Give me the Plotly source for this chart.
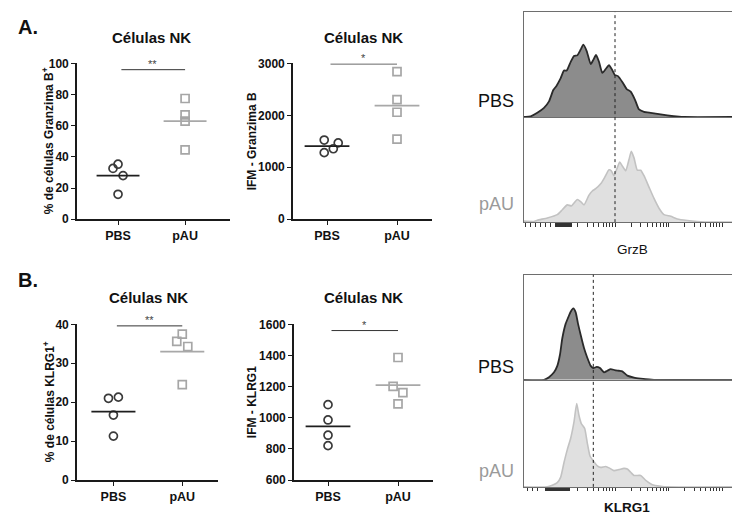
import numpy as np
import plotly.graph_objects as go

FONT = "Liberation Sans, Arial, sans-serif"
W, H = 732, 526

# ---------------- data ----------------
GRUPOS = ["PBS", "pAU"]

# Panel A: granzima B en células NK
GZB_PCT_PBS = [35.3, 32.6, 28.0, 16.0]
GZB_PCT_PAU = [77.5, 67.0, 63.0, 44.5]
GZB_IFM_PBS = [1525, 1357, 1469, 1282]
GZB_IFM_PAU = [2844, 2302, 2060, 1543]

# Panel B: KLRG1 en células NK
KLRG1_PCT_PBS = [21.0, 21.3, 16.7, 11.3]
KLRG1_PCT_PAU = [37.5, 35.6, 34.3, 24.5]
KLRG1_IFM_PBS = [1084, 986, 888, 821]
KLRG1_IFM_PAU = [1387, 1201, 1162, 1089]

SIGNIF = ["**", "*", "**", "*"]
SIGNIF_Y = [96, 2990, 39.6, 1560]

TICKS_GZB_PCT = [0, 20, 40, 60, 80, 100]
TICKS_GZB_IFM = [0, 1000, 2000, 3000]
TICKS_KLRG1_PCT = [0, 10, 20, 30, 40]
TICKS_KLRG1_IFM = [600, 800, 1000, 1200, 1400, 1600]

# Histogramas (canal de visualización, eventos)
GZB_CANAL_PBS = [0, 1.7, 6.7, 13.3, 20, 25, 29.3, 32.3, 36.7, 40, 42.7, 46.7, 50, 53.3,
                 56.7, 59.3, 62.7, 66.7, 69.3, 72, 75, 78.3, 81.7, 85, 87.7, 90.7, 94,
                 98.3, 102.7, 106.7, 111, 115, 120, 126.7, 133.3, 143.3, 155, 160, 208]
GZB_EVENTOS_PBS = [0, 0, 0.7, 4.3, 9.3, 16, 27.7, 31.7, 40, 47.7, 47.7, 56.7, 62.7, 63.3,
                   69.3, 74.3, 67.7, 54.3, 58.7, 63.7, 56.7, 45.3, 49.3, 53.3, 49.3, 43.3,
                   42, 36, 28.7, 26, 17.7, 7.7, 5.3, 4.3, 3.3, 1.7, 0.3, 0, 0]
GZB_CANAL_PAU = [0, 10, 13.3, 23.3, 33.3, 38.3, 43.3, 47.3, 53.3, 56.7, 60, 65, 68.3,
                 71.7, 76.7, 80.7, 85, 87.3, 90, 92.7, 95.7, 98.3, 101.7, 105, 107.3, 110,
                 113.3, 116.7, 120, 125, 130, 135, 140, 146.7, 153.3, 163.3, 173.3, 186.7, 208]
GZB_EVENTOS_PAU = [1, 0.7, 2, 4.3, 7.7, 12.7, 17.7, 16.7, 23.3, 21, 17.7, 27.7, 32, 34.3,
                   39.3, 46, 53.7, 52.7, 47.7, 54.3, 61.7, 57.7, 52.7, 64.3, 72.7, 66,
                   53.3, 53.3, 47.7, 36, 24.3, 14.3, 7.7, 6, 3.3, 1.7, 0.7, 0, 0]
KLRG1_CANAL_PBS = [0, 20, 25, 30, 33.3, 36, 38.3, 41.7, 44.3, 46.7, 49.3, 51.7, 54, 56.7,
                   60, 63.3, 66.7, 69.3, 72.7, 76, 80, 83.3, 86.7, 90.7, 95, 98.3, 103.3,
                   110, 116.7, 125, 130, 208]
KLRG1_EVENTOS_PBS = [0, 0, 2.7, 7.7, 14.3, 26, 42.7, 57.7, 64.3, 70, 73.3, 69.3, 57.7, 46,
                     32.7, 22.7, 14.3, 12, 13.3, 12, 7.7, 9.3, 11, 10, 9.3, 8.7, 4.3, 2.3,
                     1.3, 0.3, 0, 0]
KLRG1_CANAL_PAU = [0, 23.3, 28.3, 33.3, 36.7, 40, 43.3, 46.7, 50, 52.7, 55, 57.3, 60.7,
                   63.3, 66, 69.3, 73.3, 76.7, 81.7, 86, 90, 95, 100, 103.3, 106.7, 110,
                   116.7, 121.7, 128.3, 136.7, 143.3, 208]
KLRG1_EVENTOS_PAU = [0, 0, 1.7, 4.3, 10, 25, 38.3, 50, 66.7, 85.7, 73.3, 65, 60, 45, 31.7,
                     26.7, 21.7, 20, 21, 19, 16.7, 17.7, 19, 18.3, 15, 11.7, 11.7, 6.7,
                     2.3, 0.7, 0, 0]

GATE_GZB = 91.0
GATE_KLRG1 = 69.3

# ---------------- styling ----------------
C_PBS = "#3a3a3a"
C_PAU = "#a6a6a6"
C_AXIS = "#1a1a1a"


def px_x(x):
    return x / W


def px_y(y):
    return 1 - y / H


fig = go.Figure()

paneles = [
    dict(pbs=GZB_PCT_PBS, pau=GZB_PCT_PAU, jp=[0, -0.075, 0.075, 0], ja=[0, 0, 0, 0],
         xd=(77, 230), yd=(218, 58), xr=[0.388, 2.67], yr=[0, 100], ticks=TICKS_GZB_PCT,
         ytitle="% de células Granzima B<sup>+</sup>", tx=48, title_x=151, title_y=31),
    dict(pbs=GZB_IFM_PBS, pau=GZB_IFM_PAU, jp=[-0.04, 0.09, 0.16, -0.04], ja=[0, 0, 0, 0],
         xd=(293, 432), yd=(218, 58), xr=[0.514, 2.5], yr=[0, 3000], ticks=TICKS_GZB_IFM,
         ytitle="IFM - Granzima B", tx=252, title_x=363, title_y=31),
    dict(pbs=KLRG1_PCT_PBS, pau=KLRG1_PCT_PAU, jp=[-0.072, 0.072, 0, 0], ja=[0, -0.08, 0.08, 0],
         xd=(77, 218), yd=(486, 326), xr=[0.471, 2.519], yr=[0, 40], ticks=TICKS_KLRG1_PCT,
         ytitle="% de células KLRG1<sup>+</sup>", tx=49, title_x=148, title_y=298),
    dict(pbs=KLRG1_IFM_PBS, pau=KLRG1_IFM_PAU, jp=[0, 0, 0, 0], ja=[0, -0.07, 0.07, 0],
         xd=(294, 433), yd=(486, 326), xr=[0.514, 2.5], yr=[600, 1600], ticks=TICKS_KLRG1_IFM,
         ytitle="IFM - KLRG1", tx=252, title_x=363, title_y=298),
]

tick_font = dict(family=FONT, size=12, color="#111", weight="bold")
annotations = []
shapes = []
layout_axes = {}

for i, p in enumerate(paneles, start=1):
    xa = "x" if i == 1 else f"x{i}"
    ya = "y" if i == 1 else f"y{i}"
    xkey = "xaxis" if i == 1 else f"xaxis{i}"
    ykey = "yaxis" if i == 1 else f"yaxis{i}"

    layout_axes[xkey] = dict(
        domain=[px_x(p["xd"][0]), px_x(p["xd"][1])], range=p["xr"], anchor=ya,
        tickvals=[1, 2], ticktext=GRUPOS, showline=True, linecolor=C_AXIS, linewidth=1.6,
        ticks="outside", ticklen=4, tickwidth=1.4, tickcolor=C_AXIS,
        tickfont=dict(family=FONT, size=12.5, color="#111", weight="bold"),
        showgrid=False, zeroline=False)
    layout_axes[ykey] = dict(
        domain=[px_y(p["yd"][0]), px_y(p["yd"][1])], range=p["yr"], anchor=xa,
        tickvals=p["ticks"], showline=True, linecolor=C_AXIS, linewidth=1.6,
        ticks="outside", ticklen=4, tickwidth=1.4, tickcolor=C_AXIS, tickfont=tick_font,
        showgrid=False, zeroline=False)

    for xc, vals, jit, sym, col in ((1, p["pbs"], p["jp"], "circle-open", C_PBS),
                                    (2, p["pau"], p["ja"], "square-open", C_PAU)):
        fig.add_trace(go.Scatter(
            x=[xc + j for j in jit], y=vals, mode="markers", xaxis=xa, yaxis=ya,
            marker=dict(symbol=sym, size=8, color=col, line=dict(width=1.7, color=col)),
            cliponaxis=False, hoverinfo="skip"))
        media = float(np.mean(vals))
        fig.add_trace(go.Scatter(
            x=[xc - 0.32, xc + 0.32], y=[media, media], mode="lines", xaxis=xa, yaxis=ya,
            line=dict(color="#1e1e1e" if xc == 1 else "#a8a8a8", width=1.8),
            hoverinfo="skip"))

    sig_y = SIGNIF_Y[i - 1]
    shapes.append(dict(type="line", xref=xa, yref=ya, x0=1.05, x1=2.0, y0=sig_y, y1=sig_y,
                       line=dict(color="#333", width=1)))
    annotations.append(dict(xref=xa, yref=ya, x=1.52, y=sig_y, text=SIGNIF[i - 1],
                            showarrow=False, xanchor="center", yanchor="bottom", yshift=-2,
                            font=dict(family=FONT, size=11, color="#444")))
    # panel title
    annotations.append(dict(xref="paper", yref="paper", x=px_x(p["title_x"]),
                            y=px_y(p["title_y"]), text="<b>Células NK</b>", showarrow=False,
                            xanchor="center", yanchor="middle",
                            font=dict(family=FONT, size=15, color="#111")))
    # y-axis title
    annotations.append(dict(xref="paper", yref="paper", x=px_x(p["tx"]),
                            y=px_y((p["yd"][0] + p["yd"][1]) / 2), text=f"<b>{p['ytitle']}</b>",
                            textangle=-90, showarrow=False, xanchor="center", yanchor="middle",
                            font=dict(family=FONT, size=12, color="#111")))

# ---------------- histograms ----------------
CANAL_1E3 = 91.0
CANAL_DECADA = 53.5


def canal(v):
    return CANAL_1E3 + CANAL_DECADA * (np.log10(v) - 3)


decadas = [canal(v) for v in (1e3, 1e4, 1e5)]
menores_log = [canal(m * 10 ** e) for e in (2, 3, 4) for m in range(2, 10)]

histos = [
    dict(box=(5, 113, 221), canal_pbs=GZB_CANAL_PBS, ev_pbs=GZB_EVENTOS_PBS,
         canal_pau=GZB_CANAL_PAU, ev_pau=GZB_EVENTOS_PAU, rng=(108, 108), gate=GATE_GZB,
         lineales=[1, 6, 11, 16, 21, 26], bloque=(31, 47.5), label="GrzB", bold=False,
         label_y=249, label_x=632, pbs_y=97, pau_y=202),
    dict(box=(275, 383, 493), canal_pbs=KLRG1_CANAL_PBS, ev_pbs=KLRG1_EVENTOS_PBS,
         canal_pau=KLRG1_CANAL_PAU, ev_pau=KLRG1_EVENTOS_PAU, rng=(108, 110), gate=GATE_KLRG1,
         lineales=[3, 8, 13], bloque=(21, 46), label="KLRG1", bold=True,
         label_y=514, label_x=627, pbs_y=370, pau_y=477),
]

HX0 = 524
C_BOX = "#6e6e6e"
for k, hdef in enumerate(histos):
    top, mid, bot = hdef["box"]
    n_top = 5 + 2 * k
    n_bot = n_top + 1
    bloque = list(np.arange(hdef["bloque"][0], hdef["bloque"][1], 1.0))
    for n, (d0, d1), rmax in ((n_top, (mid, top), hdef["rng"][0]),
                             (n_bot, (bot, mid), hdef["rng"][1])):
        is_top = n == n_top
        xaxis = dict(domain=[px_x(HX0), 1.0], range=[0, 208], anchor=f"y{n}",
                     showline=True, linecolor=C_BOX, linewidth=1, mirror=is_top,
                     showticklabels=False, showgrid=False, zeroline=False)
        if is_top:
            xaxis["ticks"] = ""
        else:
            xaxis.update(ticks="outside",
                         tickvals=decadas + bloque + menores_log + hdef["lineales"],
                         ticklen=3.5, tickwidth=1, tickcolor="#333")
        layout_axes[f"xaxis{n}"] = xaxis
        layout_axes[f"yaxis{n}"] = dict(domain=[px_y(d0), px_y(d1)], range=[0, rmax],
                                        anchor=f"x{n}", showline=True, linecolor=C_BOX,
                                        linewidth=1, ticks="", showticklabels=False,
                                        showgrid=False, zeroline=False)

    fig.add_trace(go.Scatter(
        x=hdef["canal_pbs"], y=hdef["ev_pbs"], mode="lines", fill="tozeroy",
        fillcolor="#8c8c8c", line=dict(color="#2a2a2a", width=1.8, shape="spline", smoothing=0.5),
        xaxis=f"x{n_top}", yaxis=f"y{n_top}", hoverinfo="skip"))
    fig.add_trace(go.Scatter(
        x=hdef["canal_pau"], y=hdef["ev_pau"], mode="lines", fill="tozeroy",
        fillcolor="#e0e0e0", line=dict(color="#c2c2c2", width=1.6, shape="spline", smoothing=0.5),
        xaxis=f"x{n_bot}", yaxis=f"y{n_bot}", hoverinfo="skip"))

    shapes.append(dict(type="line", xref=f"x{n_bot}", yref="paper", x0=hdef["gate"],
                       x1=hdef["gate"], y0=px_y(bot), y1=px_y(top),
                       line=dict(color="#222", width=1, dash="dot")))

    annotations.append(dict(xref="paper", yref="paper", x=px_x(516), y=px_y(hdef["pbs_y"]),
                            text="PBS", showarrow=False, xanchor="right", yanchor="middle",
                            font=dict(family=FONT, size=18, color="#111")))
    annotations.append(dict(xref="paper", yref="paper", x=px_x(516), y=px_y(hdef["pau_y"]),
                            text="pAU", showarrow=False, xanchor="right", yanchor="middle",
                            font=dict(family=FONT, size=18, color="#9a9a9a")))
    lab = f"<b>{hdef['label']}</b>" if hdef["bold"] else hdef["label"]
    annotations.append(dict(xref="paper", yref="paper", x=px_x(hdef["label_x"]),
                            y=px_y(hdef["label_y"]), text=lab, showarrow=False,
                            xanchor="center", yanchor="middle",
                            font=dict(family=FONT, size=13.5, color="#111")))

# panel letters
for letra, yy in (("A.", 21), ("B.", 280)):
    annotations.append(dict(xref="paper", yref="paper", x=px_x(16), y=px_y(yy),
                            text=f"<b>{letra}</b>", showarrow=False, xanchor="left",
                            yanchor="middle", font=dict(family=FONT, size=20, color="#111")))

fig.update_layout(
    width=W, height=H, margin=dict(l=0, r=0, t=0, b=0),
    paper_bgcolor="white", plot_bgcolor="white", showlegend=False,
    annotations=annotations, shapes=shapes, **layout_axes)

fig.write_html("out.html")
